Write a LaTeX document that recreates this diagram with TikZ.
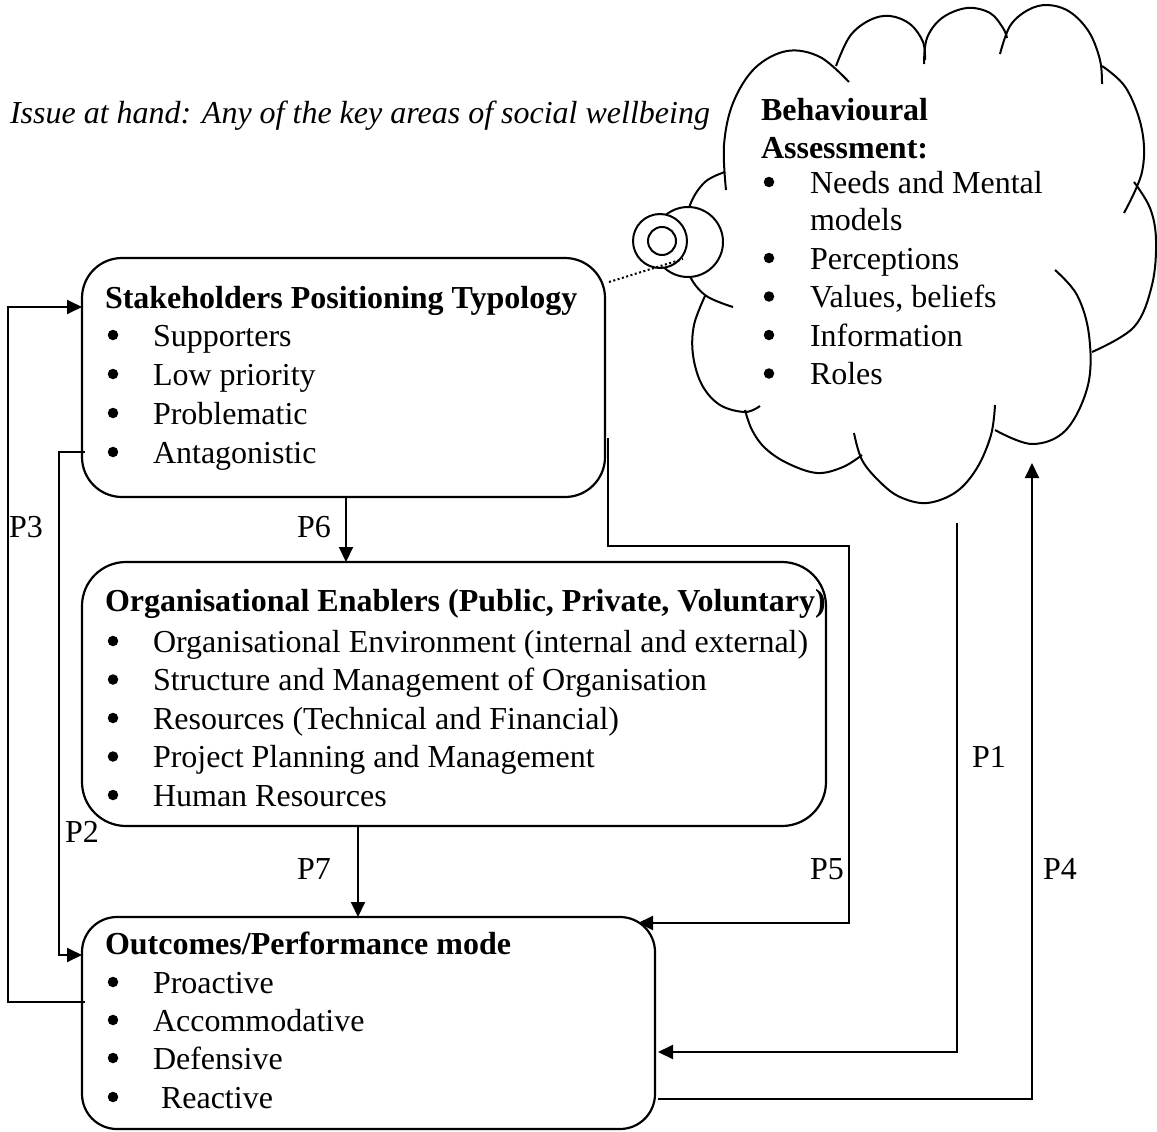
\documentclass[tikz,border=0pt]{standalone}
\usepackage{fontspec}
\setmainfont{Liberation Serif}
\usetikzlibrary{arrows.meta,calc}

\begin{document}
\begin{tikzpicture}[x=1pt,y=-1pt,
  every node/.style={inner sep=0pt, outer sep=0pt},
  txt/.style={anchor=base west, font=\fontsize{32}{38}\selectfont},
  hd/.style={anchor=base west, font=\fontsize{32}{38}\selectfont\bfseries},
  dot/.style={circle, fill, minimum size=10.5pt},
  box/.style={draw, line width=2.2pt, rounded corners=#1, anchor=north west},
  conn/.style={line width=2pt},
  arr/.style={conn, -{Triangle[length=15pt,width=14pt]}},
  lbl/.style={font=\fontsize{32}{38}\selectfont},
  cloudline/.style={line width=2pt, smooth, tension=0.6},
  bubble/.style={circle, draw, line width=2pt, fill=white}
]
\useasboundingbox (0,0) rectangle (1157,1132);

% ---------- headline ----------
\node[txt, font=\fontsize{32}{38}\selectfont\itshape] (issue) at (10,123)
  {Issue at hand: Any of the key areas of social wellbeing};

% ---------- cloud callout ----------
\draw[cloudline] plot coordinates {(726,190) (724,145) (733,103) (755,68) (787,51) (820,57) (849,82)};
\draw[cloudline] plot coordinates {(836,66) (850,36) (870,20) (890,16) (910,24) (923,42) (925,60)};
\draw[cloudline] plot coordinates {(924,64) (927,38) (942,18) (967,8) (990,13) (1003,28) (1007,38)};
\draw[cloudline] plot coordinates {(1000,54) (1010,26) (1028,10) (1048,5) (1070,12) (1089,32) (1100,60) (1102,84)};
\draw[cloudline] plot coordinates {(1102,66) (1126,88) (1142,130) (1142,172) (1124,213)};
\draw[cloudline] plot coordinates {(1134,182) (1150,208) (1156,240) (1152,285) (1134,327) (1092,352)};
\draw[cloudline] plot coordinates {(1055,270) (1077,295) (1089,335) (1088,385) (1066,430) (1032,444) (995,430)};
\draw[cloudline] plot coordinates {(995,405) (991,435) (977,468) (956,492) (927,503) (900,497) (880,482) (862,460) (854,433)};
\draw[cloudline] plot coordinates {(862,455) (843,467) (817,473) (787,463) (765,448) (752,430) (745,410)};
\draw[cloudline] plot coordinates {(760,406) (745,412) (720,405) (702,385) (693,355) (694,325) (705,296)};
\draw[cloudline] plot coordinates {(733,307) (705,295) (688,272) (683,240) (690,205) (705,182) (725,172)};

% thought bubbles of the callout
\node[bubble, minimum size=70pt] (bub1) at (688,242) {};
\node[bubble, minimum size=54pt] (bub2) at (660,241) {};
\node[bubble, minimum size=28pt] (bub3) at (662,241) {};

% cloud text
\node[hd] (ba1) at (761,121) {Behavioural};
\node[hd] (ba2) at (761,158) {Assessment:};
\foreach \y/\t in {193/Needs and Mental, 269/Perceptions, 307.5/{Values, beliefs}, 346/Information, 384.5/Roles}{
  \node[dot] at (769,\y-11) {};
  \node[txt] at (810,\y) {\t};
}
\node[txt] (bmod) at (810,230.5) {models};

% ---------- boxes ----------
\node[box=40pt, minimum width=523pt, minimum height=239pt] (stake) at (82,258) {};
\node[box=44pt, minimum width=744pt, minimum height=264pt] (org) at (82,562) {};
\node[box=35pt, minimum width=573pt, minimum height=212pt] (out) at (82,917) {};

% stakeholders box text
\node[hd] at (105,308) {Stakeholders Positioning Typology};
\foreach \y/\t in {346/Supporters, 385/Low priority, 424/Problematic, 463/Antagonistic}{
  \node[dot] at (113,\y-11) {};
  \node[txt] at (153,\y) {\t};
}

% organisational enablers box text
\node[hd] at (105,611) {Organisational Enablers (Public, Private, Voluntary)};
\foreach \y/\t in {652/Organisational Environment (internal and external),
                   690.5/Structure and Management of Organisation,
                   729/Resources (Technical and Financial),
                   767.5/Project Planning and Management,
                   806/Human Resources}{
  \node[dot] at (113,\y-11) {};
  \node[txt] at (153,\y) {\t};
}

% outcomes box text
\node[hd] at (105,954) {Outcomes/Performance mode};
\foreach \y/\t in {993/Proactive, 1031/Accommodative, 1069/Defensive, 1108/{\ Reactive}}{
  \node[dot] at (113,\y-11) {};
  \node[txt] at (153,\y) {\t};
}

% ---------- connectors ----------
\draw[line width=2pt, dash pattern=on 2pt off 2.5pt]
  ([shift={(4,24)}]stake.north east) -- ([shift={(-5,17)}]bub1.center);

% P6, P7
\draw[arr] (stake.south -| 346,0) -- (org.north -| 346,0);
\draw[arr] (org.south -| 358,0) -- (out.north -| 358,0);

% P3: outcomes back to stakeholders
\draw[arr] ([shift={(3,85)}]out.north west) -| (8,307) -- (stake.west |- 0,307);
% P2: stakeholders to outcomes
\draw[arr] ([shift={(3,194)}]stake.north west) -| (59,955) -- (out.west |- 0,955);

% P5: stakeholders to outcomes, on the right
\coordinate (p5s) at (608,438);
\draw[arr] (p5s) -- (608,546) -| (849,923) -- ([shift={(-17,6)}]out.north east);

% P1: behavioural assessment to outcomes
\coordinate (p1s) at (957,523);
\draw[arr] (p1s) |- ($(out.east |- 0,1052)+(3,0)$);

% P4: outcomes to behavioural assessment
\coordinate (p4e) at (1032,463);
\draw[arr] ($(out.east |- 0,1099)+(3,0)$) -| (p4e);

% ---------- path labels ----------
\node[lbl] (l1) at (989,757) {P1};
\node[lbl] (l2) at (82,832) {P2};
\node[lbl] (l3) at (26,527) {P3};
\node[lbl] (l4) at (1060,869) {P4};
\node[lbl] (l5) at (827,869) {P5};
\node[lbl] (l6) at (314,527) {P6};
\node[lbl] (l7) at (314,869) {P7};
\end{tikzpicture}
\end{document}
